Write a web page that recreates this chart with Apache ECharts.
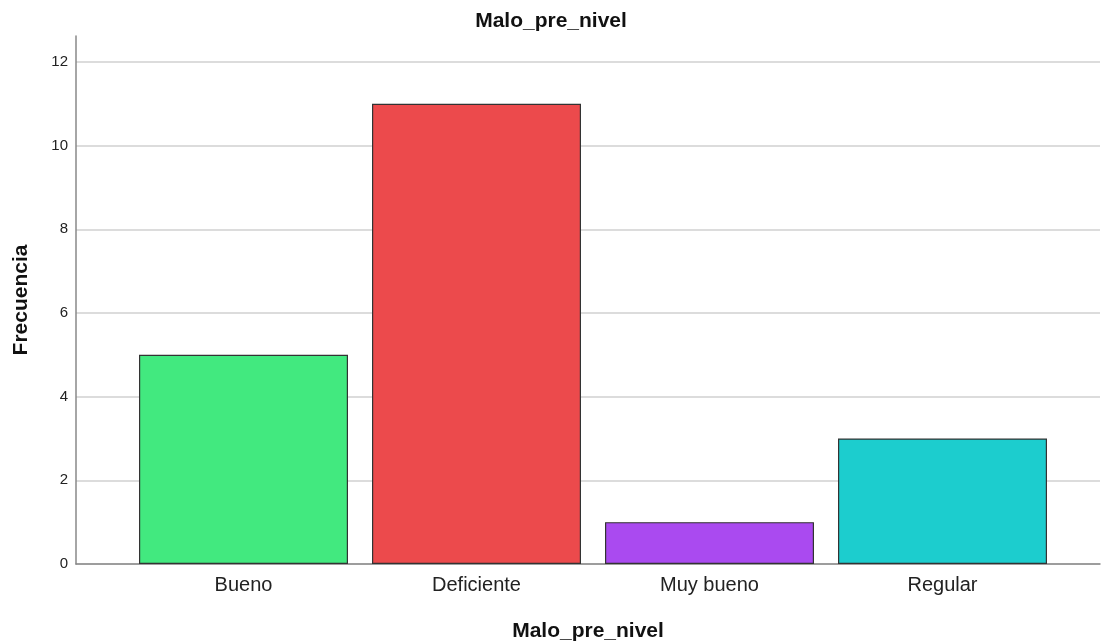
<!DOCTYPE html>
<html><head><meta charset="utf-8">
<script src="https://cdn.jsdelivr.net/npm/echarts@6/dist/echarts.min.js"></script>
<style>html,body{margin:0;padding:0;background:#fff}#c{width:1102px;height:642px}</style>
</head><body><div id="c"></div>
<script>
const categories = ["Bueno", "Deficiente", "Muy bueno", "Regular"];
const frecuencia = [5, 11, 1, 3];
const barColors = ["#42E97F", "#EC4A4C", "#AA4AF0", "#1CCDCE"];
const yMax = 12.62;
const yInterval = 2;
const font = "Liberation Sans, Arial, sans-serif";

const chart = echarts.init(document.getElementById('c'), null, {renderer: 'canvas'});
chart.setOption({
  animation: false,
  backgroundColor: '#fff',
  title: {
    text: 'Malo_pre_nivel', left: 'center', top: 6,
    textStyle: {fontFamily: font, fontSize: 21, fontWeight: 'bold', color: '#111'}
  },
  grid: [
    {left: 76, right: 2, top: 36, bottom: 78, containLabel: false, outerBoundsMode: 'none'},
    {left: 127, right: 43, top: 36, bottom: 78, containLabel: false, outerBoundsMode: 'none'}
  ],
  xAxis: [
    {gridIndex: 0, type: 'value', min: 0, max: 1,
     axisLine: {show: true, onZero: false, lineStyle: {color: '#888', width: 1.5}},
     axisTick: {show: false}, axisLabel: {show: false}, splitLine: {show: false},
     name: 'Malo_pre_nivel', nameLocation: 'middle', nameGap: 57,
     nameTextStyle: {fontFamily: font, fontSize: 21, fontWeight: 'bold', color: '#111'}},
    {gridIndex: 1, type: 'category', data: categories,
     axisLine: {show: false}, axisTick: {show: false},
     axisLabel: {fontFamily: font, fontSize: 20, color: '#222', margin: 11}}
  ],
  yAxis: [
    {gridIndex: 0, type: 'value', min: 0, max: yMax, interval: yInterval,
     axisLine: {show: true, lineStyle: {color: '#888', width: 1.5}},
     axisTick: {show: false},
     axisLabel: {fontFamily: font, fontSize: 15, color: '#222', margin: 8, showMaxLabel: false},
     splitLine: {show: true, showMaxLine: false, lineStyle: {color: '#d0d0d0', width: 1.5}},
     name: 'Frecuencia', nameLocation: 'middle', nameGap: 44, nameRotate: 90,
     nameTextStyle: {fontFamily: font, fontSize: 21, fontWeight: 'bold', color: '#111'}},
    {gridIndex: 1, type: 'value', min: 0, max: yMax, show: false}
  ],
  series: [{
    type: 'bar', xAxisIndex: 1, yAxisIndex: 1,
    data: frecuencia.map((v, i) => ({value: v, itemStyle: {color: barColors[i]}})),
    barWidth: 209,
    itemStyle: {borderColor: '#333', borderWidth: 1.2}
  }]
});
</script></body></html>
